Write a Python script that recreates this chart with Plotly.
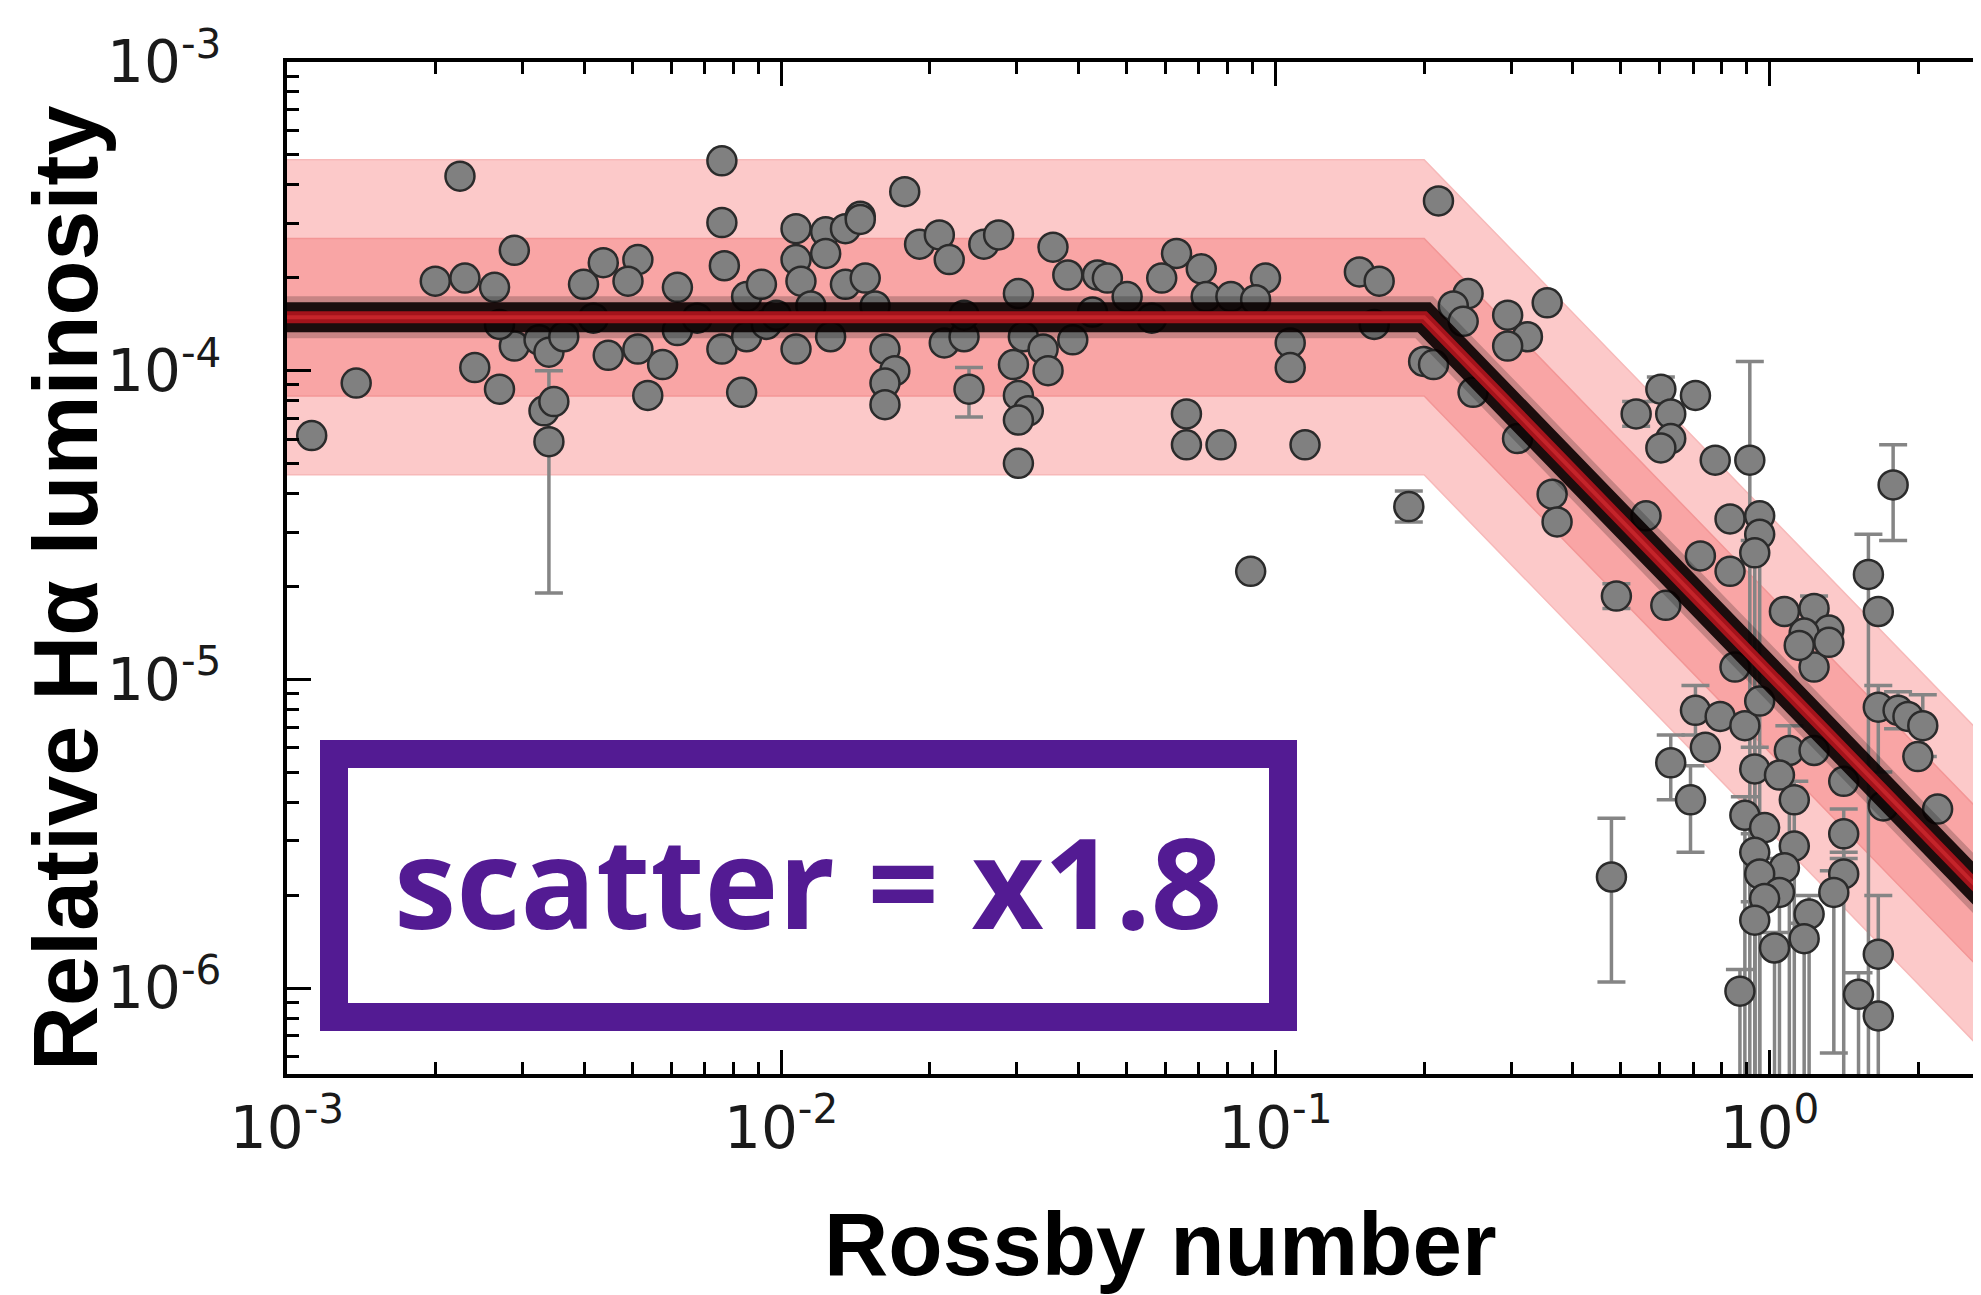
import numpy as np
import plotly.graph_objects as go

# ---------------- data (log10 values) ----------------
log10_rossby = [
    -2.95, -2.86, -2.65, -2.70, -2.64, -2.58, -2.54, -2.62, -2.57, -2.54,
    -2.48, -2.46, -2.47, -2.49, -2.47, -2.44, -2.40, -2.36, -2.29, -2.31,
    -2.35, -2.29, -2.27, -2.24, -2.21, -2.21, -2.12, -2.12, -2.115, -2.12,
    -2.08, -2.07, -2.04, -2.07, -2.03, -1.97, -1.97, -1.97, -1.96, -1.91,
    -1.91, -1.87, -1.87, -1.90, -1.84, -2.38, -2.17, -2.01, -1.94, -2.57,
    -1.75, -1.84, -1.72, -1.68, -1.66, -1.59, -1.56, -1.45, -1.42, -1.36,
    -1.34, -1.30, -1.20, -1.23, -1.15, -1.14, -1.09, -1.02, -1.04, -0.83,
    -0.79, -0.80, -0.67, -0.70, -1.52, -1.83, -1.79, -1.77, -1.79, -1.79,
    -1.67, -1.63, -1.62, -1.53, -1.51, -1.47, -1.46, -1.41, -1.52, -1.50,
    -1.52, -1.52, -1.18, -1.18, -1.11, -0.94, -0.97, -0.97, -1.25, -1.05,
    -0.73, -1.81, -1.63, -1.37, -0.61, -0.64, -0.62, -0.53, -0.45, -0.49,
    -0.53, -0.68, -0.60, -0.51, -0.44, -0.43, -0.31, -0.21, -0.25, -0.27,
    -0.22, -0.15, -0.20, -0.20, -0.22, -0.11, -0.04, -0.08, -0.02, -0.02,
    -0.03, -0.14, -0.08, 0.25, 0.20, 0.22, 0.03, 0.09, 0.12, 0.07,
    -0.32, -0.20, -0.16, -0.13, -0.15, -0.10, -0.07, -0.05, -0.02, 0.04,
    0.09, 0.06, 0.12, 0.09, -0.03, 0.02, 0.05, -0.05, -0.01, -0.03,
    0.05, 0.03, -0.02, 0.02, -0.01, -0.03, 0.08, 0.07, 0.01, -0.06,
    0.15, 0.15, 0.15, 0.13, 0.22, 0.26, 0.28, 0.31, 0.30, 0.23,
    0.34, 0.22, 0.18, 0.22,
]
log10_lum = [
    -4.21, -4.04, -3.37, -3.71, -3.70, -3.73, -3.61, -3.99, -4.06, -3.92,
    -4.13, -4.10, -4.23, -3.90, -3.94, -3.89, -3.72, -3.65, -3.64, -3.71,
    -3.95, -3.93, -4.08, -3.98, -3.73, -3.87, -3.32, -3.52, -3.66, -3.93,
    -4.07, -3.76, -3.72, -3.89, -3.85, -3.54, -3.64, -3.93, -3.71, -3.55,
    -3.62, -3.54, -3.72, -3.89, -3.50, -3.83, -3.83, -3.82, -3.79, -3.85,
    -3.42, -3.51, -3.59, -3.56, -3.64, -3.59, -3.56, -3.60, -3.69, -3.69,
    -3.70, -3.76, -3.62, -3.70, -3.67, -3.76, -3.76, -3.70, -3.77, -3.68,
    -3.71, -3.85, -3.45, -3.97, -3.75, -3.70, -3.93, -4.00, -4.04, -4.11,
    -3.91, -3.89, -4.06, -3.98, -3.89, -3.93, -4.00, -3.90, -4.08, -4.13,
    -4.16, -4.30, -4.14, -4.24, -4.24, -4.24, -3.91, -3.99, -3.83, -4.65,
    -4.44, -3.79, -3.82, -3.81, -3.75, -3.79, -3.84, -3.82, -3.78, -3.89,
    -3.92, -3.98, -4.07, -4.22, -4.40, -4.49, -4.73, -4.76, -4.47, -4.14,
    -4.06, -4.08, -4.14, -4.22, -4.25, -4.29, -4.29, -4.48, -4.47, -4.53,
    -4.59, -4.60, -4.65, -4.37, -4.66, -4.78, -4.78, -4.77, -4.84, -4.85,
    -5.64, -5.27, -5.39, -5.22, -5.10, -5.12, -4.96, -5.15, -5.07, -5.23,
    -4.96, -4.89, -4.88, -5.23, -5.29, -5.31, -5.39, -5.44, -5.48, -5.56,
    -5.54, -5.61, -5.63, -5.69, -5.71, -5.78, -5.76, -5.84, -5.87, -6.01,
    -5.33, -5.50, -5.63, -5.69, -5.09, -5.10, -5.12, -5.15, -5.25, -5.41,
    -5.42, -5.89, -6.02, -6.09,
]

# error bars: point index, log10 of upper end, log10 of lower end
eb_index = [12, 82, 100, 116, 119, 120, 126, 129, 130, 133, 134, 137, 140, 141,
            142, 144, 149, 154, 156, 157, 159, 162, 163, 165, 166, 167, 168,
            169, 171, 172, 173, 174, 175, 177, 181, 182]
eb_log10_upper = [-4.00, -3.99, -4.39, -4.69, -4.10, -4.02, -3.97, -4.45, -4.55,
                  -4.24, -4.53, -4.73, -5.45, -5.18, -5.28, -5.02, -5.15, -5.22,
                  -5.33, -5.38, -5.50, -5.58, -5.64, -5.72, -5.70, -5.79, -5.82,
                  -5.94, -5.42, -5.56, -5.62, -5.02, -5.04, -5.05, -5.70, -5.95]
eb_log10_lower = [-4.72, -4.15, -4.49, -4.77, -4.18, -4.10, -7.0, -7.0, -7.0,
                  -4.55, -7.0, -4.81, -5.98, -5.39, -5.56, -5.18, -7.0, -7.0,
                  -7.0, -7.0, -7.0, -7.0, -7.0, -7.0, -7.0, -7.0, -7.0,
                  -7.0, -5.58, -7.0, -6.21, -5.30, -5.16, -5.25, -7.0, -7.0]

# broken power-law model
ro_sat = 0.20
lum_sat = 1.49e-4
beta = -1.65
scatter_factor = 1.8

x_tickvals = [1e-3, 1e-2, 1e-1, 1e0]
x_ticktext = ["10<sup>-3</sup>", "10<sup>-2</sup>", "10<sup>-1</sup>", "10<sup>0</sup>"]
y_tickvals = [1e-6, 1e-5, 1e-4, 1e-3]
y_ticktext = ["10<sup>-6</sup>", "10<sup>-5</sup>", "10<sup>-4</sup>", "10<sup>-3</sup>"]

# ---------------- layout geometry (pixels) ----------------
W, H = 1981, 1295
ML, MT, MB = 279, 54, 229
L, T, R, B = ML, MT, W, H - MB


def px_x(px):
    return (px - L) / (R - L)


def px_y(py):
    return (B - py) / (B - T)


# ---------------- build ----------------
ro = 10 ** np.array(log10_rossby)
lum = 10 ** np.array(log10_lum)
err_plus = np.zeros_like(lum)
err_minus = np.zeros_like(lum)
for i, up, lo in zip(eb_index, eb_log10_upper, eb_log10_lower):
    err_plus[i] = 10 ** up - lum[i]
    err_minus[i] = lum[i] - 10 ** lo


def model(x):
    x = np.asarray(x, dtype=float)
    return np.where(x < ro_sat, lum_sat, lum_sat * (x / ro_sat) ** beta)


xm = np.array([5e-4, ro_sat, 30.0])
ym = model(xm)

fig = go.Figure()

for f, fill, edge in [(scatter_factor ** 2, "#fcc9c9", "#f7b9b9"),
                      (scatter_factor, "#f9a5a5", "#f39696")]:
    fig.add_trace(go.Scatter(
        x=np.concatenate([xm, xm[::-1]]),
        y=np.concatenate([ym * f, (ym / f)[::-1]]),
        mode="lines", fill="toself", fillcolor=fill,
        line=dict(color=edge, width=1.5),
        hoverinfo="skip", showlegend=False))

fig.add_trace(go.Scatter(
    x=ro, y=lum, mode="markers",
    marker=dict(size=29, color="#808080", line=dict(color="#2b2b2b", width=2.5)),
    error_y=dict(type="data", symmetric=False, array=err_plus, arrayminus=err_minus,
                 color="#858585", thickness=3.5, width=14, visible=True),
    showlegend=False))

for w, c in [(42, "rgba(0,0,0,0.2)"), (30, "rgba(8,0,0,0.9)"),
             (12, "#a3131b"), (4, "#c4242a")]:
    fig.add_trace(go.Scatter(x=xm, y=ym, mode="lines",
                             line=dict(color=c, width=w),
                             hoverinfo="skip", showlegend=False))

tick_font = dict(family="DejaVu Sans", size=58, color="#1a1a1a")
minor_x = [k * 10.0 ** d for d in range(-3, 1) for k in range(2, 10)]
minor_y = [k * 10.0 ** d for d in range(-7, -3) for k in range(2, 10)]

fig.update_xaxes(
    type="log", range=[-3, 0.444],
    showline=True, linecolor="black", linewidth=4, mirror="ticks",
    ticks="inside", ticklen=24, tickwidth=3, tickcolor="black",
    tickmode="array", tickvals=x_tickvals, ticktext=x_ticktext,
    tickfont=tick_font, ticklabelstandoff=0,
    minor=dict(tickmode="array", tickvals=minor_x, ticks="inside",
               ticklen=12, tickwidth=2.5, tickcolor="black", showgrid=False),
    showgrid=False, zeroline=False)

fig.update_yaxes(
    type="log", range=[np.log10(5.27e-7), -3],
    showline=True, linecolor="black", linewidth=4, mirror=False,
    ticks="inside", ticklen=24, tickwidth=3, tickcolor="black",
    tickmode="array", tickvals=y_tickvals, ticktext=y_ticktext,
    tickfont=tick_font, ticklabelstandoff=50,
    minor=dict(tickmode="array", tickvals=minor_y, ticks="inside",
               ticklen=12, tickwidth=2.5, tickcolor="black", showgrid=False),
    showgrid=False, zeroline=False)

purple = "#531b93"

fig.update_layout(
    width=W, height=H,
    margin=dict(l=ML, r=0, t=MT, b=MB),
    paper_bgcolor="white", plot_bgcolor="white",
    showlegend=False,
    shapes=[dict(type="rect", xref="paper", yref="paper",
                 x0=px_x(326), x1=px_x(1275), y0=px_y(1009), y1=px_y(746),
                 line=dict(color=purple, width=28), fillcolor="white",
                 layer="above")],
    annotations=[
        dict(text="<b>scatter = x1.8</b>", xref="paper", yref="paper",
             x=px_x(800), y=px_y(872), xanchor="center", yanchor="middle",
             showarrow=False,
             font=dict(family="Open Sans", size=125, color=purple)),
        dict(text="<b>Relative Hα luminosity</b>", xref="paper", yref="paper",
             x=px_x(58), y=px_y(580), xanchor="center", yanchor="middle",
             textangle=-90, showarrow=False,
             font=dict(family="Liberation Sans", size=90, color="black")),
        dict(text="<b>Rossby number</b>", xref="paper", yref="paper",
             x=px_x(1152), y=px_y(1236), xanchor="center", yanchor="middle",
             showarrow=False,
             font=dict(family="Liberation Sans", size=89, color="black")),
    ],
)

fig.write_html("out.html")
